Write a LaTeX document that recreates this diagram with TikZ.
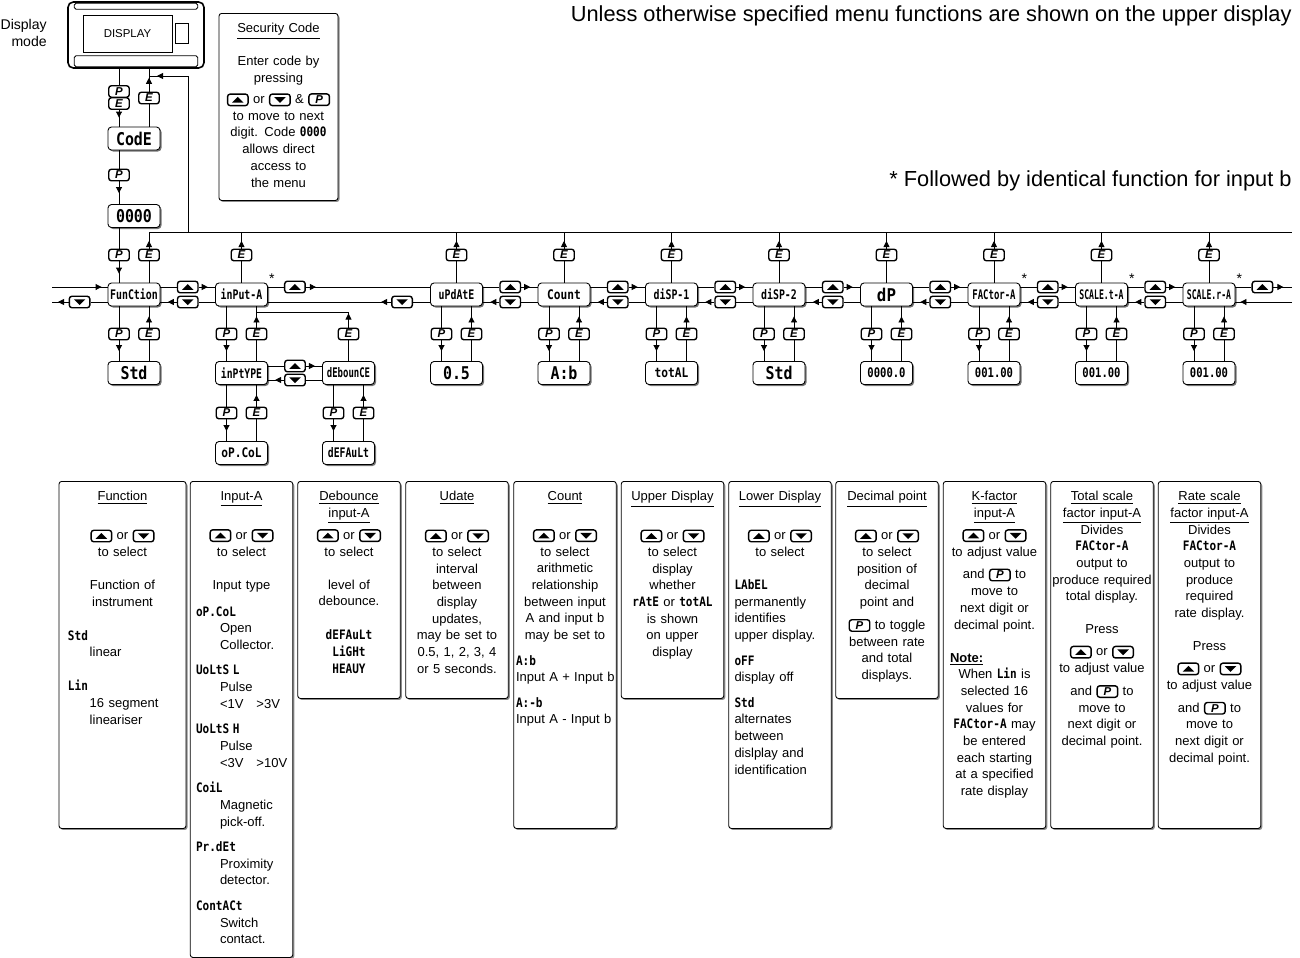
\documentclass[tikz,border=0pt]{standalone}
\usepackage{fontspec}
\setmainfont{Liberation Sans}
\newfontfamily\segfont{DejaVu Sans Mono}
\usepackage{graphicx}
\usetikzlibrary{positioning, arrows.meta, calc, shadows, decorations.markings}

\newcommand\sq[2][0.75]{\scalebox{#1}[1]{#2}}
\newcommand\sg[1]{{\segfont\bfseries\scalebox{0.85}[1]{#1}}}
\newcommand\kU{\tikz[baseline={([yshift=-0.75mm]k.center)}]\node[keyup] (k) {};}
\newcommand\kD{\tikz[baseline={([yshift=-0.75mm]k.center)}]\node[keydn] (k) {};}
\newcommand\kP{\tikz[baseline=(k.base)]\node[keyb] (k) {P};}
\newcommand\lft[2][0pt]{\leavevmode\hbox to\hsize{\hspace*{#1}#2\hss}}

\tikzset{
    seg/.style    = {draw, fill=white, rounded corners=2pt, line width=0.5pt,
                     minimum width=10.4mm, minimum height=4.6mm, inner sep=0pt,
                     drop shadow={shadow xshift=0.3mm, shadow yshift=-0.3mm, fill=black!55, opacity=1},
                     font=\segfont\bfseries\fontsize{7.5}{7.5}\selectfont},
    segbig/.style = {seg, font=\segfont\bfseries\fontsize{10}{10}\selectfont},
    keyb/.style   = {draw, fill=white, rounded corners=1.5pt, line width=0.8pt,
                     minimum width=4.1mm, minimum height=2.3mm, inner sep=0pt,
                     font=\fontsize{6.5}{6.5}\selectfont\bfseries\itshape},
    keyup/.style  = {keyb, path picture={\fill[black, sharp corners]
                     ([shift={(-1.15mm,-0.55mm)}]path picture bounding box.center)
                     -- ++(2.3mm,0mm) -- ++(-1.15mm,1.15mm) -- cycle;}},
    keydn/.style  = {keyb, path picture={\fill[black, sharp corners]
                     ([shift={(-1.15mm,0.55mm)}]path picture bounding box.center)
                     -- ++(2.3mm,0mm) -- ++(-1.15mm,-1.15mm) -- cycle;}},
    dev/.style    = {draw, rounded corners=3pt, line width=0.9pt, inner sep=0pt,
                     minimum width=27.2mm, minimum height=13.2mm},
    legbox/.style = {draw, fill=white, rounded corners=1.5pt, line width=0.5pt, anchor=north,
                     minimum width=20.5mm,
                     drop shadow={shadow xshift=0.3mm, shadow yshift=-0.3mm, fill=black!45, opacity=1}},
    legtxt/.style = {anchor=north, align=center, text width=20.2mm, inner xsep=0pt, inner ysep=2mm,
                     font=\fontsize{7.4}{9.5}\selectfont},
    flow/.style   = {postaction={decorate}, decoration={markings,
                     mark=at position #1 with {\arrow{Triangle[length=1.2mm, width=1.2mm]}}}},
    flow/.default = -1.8mm,
    note/.style   = {font=\fontsize{12.4}{14}\selectfont, anchor=east, inner sep=0pt}
}

\begin{document}
\begin{tikzpicture}[x=0.2mm, y=-0.2mm, line width=0.5pt]
    \useasboundingbox (0,0) rectangle (1300,958);

    % --- Display ---
    \node[font=\fontsize{8}{9.7}\selectfont, align=right, anchor=east] (dmode) at (53,33) {Display\\mode};
    \node[dev] (disp) at (136,35) {};
    \draw[rounded corners=1pt] ([shift={(7,2)}]disp.north west) rectangle ([shift={(-7,8)}]disp.north east);
    \draw[rounded corners=1pt] ([shift={(7,-13)}]disp.south west) rectangle ([shift={(-7,-2)}]disp.south east);
    \node[draw, minimum width=17.8mm, minimum height=7.4mm, font=\fontsize{6.5}{6.5}\selectfont] (dwin) at (127.5,33.5) {DISPLAY};
    \node[draw, minimum width=2.6mm, minimum height=4mm, inner sep=0pt] (dled) at (181.5,33) {};

    \node[legbox, minimum width=23.8mm, minimum height=37.4mm] (sec) at (278.5,13) {};
    \node[legtxt, text width=23mm] (secT) at (sec.north) {\underline{Security Code}\\[9.3pt]
        Enter code by\\ pressing\\[2.5pt] \kU{} or \kD{} \& \kP\\ to move to next\\
        digit. Code \sg{0000}\\ allows direct\\ access to\\ the menu};

    \node[note] (nUpper) at (1292,16) {Unless otherwise specified menu functions are shown on the upper display};
    \node[note] (nStar) at (1292,181) {* Followed by identical function for input b};

    % --- Code ---
    \node[segbig] (code) at (134,138.5) {\sq[0.85]{CodE}};
    \node[segbig] (zero) at (134,216) {\sq[0.85]{0000}};
    \node[keyb] (kP0) at (119,91.5) {P};
    \node[keyb] (kE0) at (119,103.5) {E};
    \node[keyb] (kE1) at (149,98) {E};
    \node[keyb] (kP1) at (119,175) {P};

    \draw (disp.south -| kP0) -- (kP0);
    \draw[flow] (kE0) -- (code.north -| kE0);
    \draw (code.north -| kE1) -- (kE1);
    \draw[flow] (kE1) -- (disp.south -| kE1);
    \draw (code.south -| kP1) -- (kP1);
    \draw[flow=-2.2mm] (kP1) -- (zero.north -| kP1);

    % --- Menu ---
    \coordinate (yB) at (0,232);
    \coordinate (yE) at (0,255);
    \coordinate (yU) at (0,287);
    \coordinate (yD) at (0,302);
    \coordinate (yJ) at (0,312);
    \coordinate (yP) at (0,334);
    \coordinate (yU2) at (0,366);
    \coordinate (yD2) at (0,380);
    \coordinate (yQ) at (0,413);
    \coordinate (xL) at (52,0);
    \coordinate (xR) at (1292,0);

    \node[seg]    (mFun) at (134,294.5)   {\sq{FunCtion}};
    \node[seg]    (mInp) at (241.5,294.5) {\sq{inPut-A}};
    \node[seg]    (mUpd) at (456.5,294.5) {\sq{uPdAtE}};
    \node[seg]    (mCnt) at (564,294.5)   {\sq[0.85]{Count}};
    \node[seg]    (mDs1) at (671.5,294.5) {\sq{diSP-1}};
    \node[seg]    (mDs2) at (779,294.5)   {\sq{diSP-2}};
    \node[segbig] (mDp)  at (886.5,294.5) {\sq[0.9]{dP}};
    \node[seg]    (mFac) at (994,294.5)   {\sq[0.68]{FACtor-A}};
    \node[seg]    (mSct) at (1101.5,294.5){\sq[0.62]{SCALE.t-A}};
    \node[seg]    (mScr) at (1209,294.5)  {\sq[0.62]{SCALE.r-A}};

    \node[segbig] (sFun) at (134,373)    {\sq[0.85]{Std}};
    \node[seg]    (sInp) at (241.5,373)  {\sq[0.74]{inPtYPE}};
    \node[seg]    (sDeb) at (348.5,373)  {\sq[0.68]{dEbounCE}};
    \node[segbig] (sUpd) at (456.5,373)  {\sq[0.85]{0.5}};
    \node[segbig] (sCnt) at (564,373)    {\sq[0.85]{A:b}};
    \node[seg]    (sDs1) at (671.5,373)  {\sq[0.85]{totAL}};
    \node[segbig] (sDs2) at (779,373)    {\sq[0.85]{Std}};
    \node[seg]    (sDp)  at (886.5,373)  {\sq[0.8]{0000.0}};
    \node[seg]    (sFac) at (994,373)    {\sq[0.8]{001.00}};
    \node[seg]    (sSct) at (1101.5,373) {\sq[0.8]{001.00}};
    \node[seg]    (sScr) at (1209,373)   {\sq[0.8]{001.00}};
    \node[seg]    (tTyp) at (241.5,453)  {\sq[0.85]{oP.CoL}};
    \node[seg]    (tDeb) at (348.5,453)  {\sq[0.74]{dEFAuLt}};

    \foreach \m in {mInp,mFac,mSct,mScr}
        \node[font=\fontsize{8}{8}\selectfont, inner sep=0pt] (a\m) at ([shift={(4,-4)}]\m.north east) {*};

    % Function from code
    \node[keyb] (pT) at (119,255) {P};
    \node[keyb] (eT) at (149,255) {E};
    \draw (zero.south -| pT) -- (pT);
    \draw[flow] (pT) -- (mFun.north -| pT);
    \draw (mFun.north -| eT) -- (eT);
    \draw[flow] (eT) -- (eT |- yB);

    % E back to display
    \draw (eT |- yB) -- (xR |- yB);
    \coordinate (ret) at (188,76);
    \draw[flow=-1.6mm] (ret |- yB) -- (ret) -- (kE1 |- ret);

    \foreach \m in {mInp,mUpd,mCnt,mDs1,mDs2,mDp,mFac,mSct,mScr}{
        \node[keyb] (e\m) at (\m |- yE) {E};
        \draw (\m) -- (e\m);
        \draw[flow] (e\m) -- (e\m |- yB);
    }

    % up / down between items
    \foreach \a/\b in {mFun/mInp, mUpd/mCnt, mCnt/mDs1, mDs1/mDs2, mDs2/mDp, mDp/mFac, mFac/mSct, mSct/mScr}{
        \path ($(\a.east)!0.5!(\b.west)$) coordinate (c\a);
        \node[keyup] (u\a) at (c\a |- yU) {};
        \node[keydn] (d\a) at (c\a |- yD) {};
        \draw (\a.east |- u\a) -- (u\a);
        \draw[flow=1.8mm] (u\a) -- (\b.west |- u\a);
        \draw (\b.west |- d\a) -- (d\a);
        \draw[flow=1.8mm] (d\a) -- (\a.east |- d\a);
    }
    \draw[flow=-1.2mm] (xL |- yU) -- (mFun.west |- yU);
    \node[keydn] (dL) at ($(mFun.west |- yD)+(-28,0)$) {};
    \draw (mFun.west |- dL) -- (dL);
    \draw[flow=-1.2mm] (dL) -- (xL |- yD);

    \node[keyup] (uInp) at ($(mInp.east |- yU)+(27,0)$) {};
    \draw (mInp.east |- uInp) -- (uInp);
    \draw[flow=2mm] (uInp) -- (mUpd.west |- uInp);
    \node[keydn] (dUpd) at ($(mUpd.west |- yD)+(-28,0)$) {};
    \draw (mUpd.west |- dUpd) -- (dUpd);
    \draw[flow=2mm] (dUpd) -- (mInp.east |- dUpd);

    \node[keyup] (uScr) at ($(mScr.east |- yU)+(27,0)$) {};
    \draw (mScr.east |- uScr) -- (uScr);
    \draw[flow=2mm] (uScr) -- (xR |- yU);
    \draw[flow=-1mm] (xR |- yD) -- (mScr.east |- yD);

    % P / E below
    \foreach \m/\s/\r in {mFun/sFun/yP, mInp/sInp/yP, mUpd/sUpd/yP, mCnt/sCnt/yP, mDs1/sDs1/yP,
                          mDs2/sDs2/yP, mDp/sDp/yP, mFac/sFac/yP, mSct/sSct/yP, mScr/sScr/yP,
                          sInp/tTyp/yQ, sDeb/tDeb/yQ}{
        \node[keyb] (p\m) at ($(\m |- \r)+(-15,0)$) {P};
        \node[keyb] (q\m) at ($(\m |- \r)+(15,0)$) {E};
        \draw (\m.south -| p\m) -- (p\m);
        \draw[flow=-2mm] (p\m) -- (\s.north -| p\m);
        \draw (\s.north -| q\m) -- (q\m);
        \draw[flow=-2mm] (q\m) -- (\m.south -| q\m);
    }

    % debounce
    \node[keyb] (eDeb) at (sDeb |- yP) {E};
    \draw (sDeb) -- (eDeb);
    \draw[flow=-0.3mm] (eDeb) -- (eDeb |- yJ);
    \draw (eDeb |- yJ) -- (qmInp |- yJ);
    \path ($(sInp.east)!0.5!(sDeb.west)$) coordinate (cSub);
    \node[keyup] (uSub) at (cSub |- yU2) {};
    \node[keydn] (dSub) at (cSub |- yD2) {};
    \draw (sInp.east |- uSub) -- (uSub);
    \draw[flow=1.8mm] (uSub) -- (sDeb.west |- uSub);
    \draw (sDeb.west |- dSub) -- (dSub);
    \draw[flow=1.8mm] (dSub) -- (sInp.east |- dSub);

    % --- Legend ---
    \node[legbox, minimum width=25.4mm, minimum height=69.4mm] (bFun) at (122.5,481) {};
    \node[legtxt, text width=25.1mm] (tFun) at (bFun.north) {\underline{Function}\\[12.7pt]
        \kU{} or \kD\\ to select\\[9.3pt] Function of\\ instrument\\[9.8pt]
        \lft[1.65mm]{\sg{Std}}\\ \lft[6mm]{linear}\\[9.8pt]
        \lft[1.65mm]{\sg{Lin}}\\ \lft[6mm]{16 segment}\\ \lft[6mm]{lineariser}};

    \node[legbox, minimum height=95.2mm] (bInp) at (241.5,481) {};
    \node[legtxt] (tInp) at (bInp.north) {\underline{Input-A}\\[12.7pt]
        \kU{} or \kD\\ to select\\[9.3pt] Input type\\[5.9pt]
        \lft[1mm]{\sg{oP.CoL}}\\ \lft[5.8mm]{Open}\\ \lft[5.8mm]{Collector.}\\[5pt]
        \lft[1mm]{\sg{UoLtS L}}\\ \lft[5.8mm]{Pulse}\\ \lft[5.8mm]{<1V\quad >3V}\\[5pt]
        \lft[1mm]{\sg{UoLtS H}}\\ \lft[5.8mm]{Pulse}\\ \lft[5.8mm]{<3V\quad >10V}\\[5pt]
        \lft[1mm]{\sg{CoiL}}\\ \lft[5.8mm]{Magnetic}\\ \lft[5.8mm]{pick-off.}\\[5pt]
        \lft[1mm]{\sg{Pr.dEt}}\\ \lft[5.8mm]{Proximity}\\ \lft[5.8mm]{detector.}\\[5pt]
        \lft[1mm]{\sg{ContACt}}\\ \lft[5.8mm]{Switch}\\ \lft[5.8mm]{contact.}};

    \node[legbox, minimum height=43.4mm] (bDeb) at (349,481) {};
    \node[legtxt] (tDeb) at (bDeb.north) {\underline{Debounce}\\ \underline{input-A}\\[3pt]
        \kU{} or \kD\\ to select\\[9.3pt] level of\\ debounce.\\[9.8pt]
        \sg{dEFAuLt}\\ \sg{LiGHt}\\ \sg{HEAUY}};

    \node[legbox, minimum height=43.4mm] (bUpd) at (457,481) {};
    \node[legtxt] (tUpd) at (bUpd.north) {\underline{Udate}\\[12.7pt]
        \kU{} or \kD\\ to select\\ interval\\ between\\ display\\ updates,\\
        may be set to\\ 0.5, 1, 2, 3, 4\\ or 5 seconds.};

    \node[legbox, minimum height=69.4mm] (bCnt) at (565,481) {};
    \node[legtxt] (tCnt) at (bCnt.north) {\underline{Count}\\[12.7pt]
        \kU{} or \kD\\ to select\\ arithmetic\\ relationship\\ between input\\
        A and input b\\ may be set to\\[5pt]
        \lft[0.3mm]{\sg{A:b}}\\ \lft[0.3mm]{Input A + Input b}\\[5pt]
        \lft[0.3mm]{\sg{A:-b}}\\ \lft[0.3mm]{Input A - Input b}};

    \node[legbox, minimum height=43.4mm] (bDs1) at (672.5,481) {};
    \node[legtxt] (tDs1) at (bDs1.north) {\underline{Upper Display}\\[12.7pt]
        \kU{} or \kD\\ to select\\ display\\ whether\\ \sg{rAtE} or \sg{totAL}\\
        is shown\\ on upper\\ display};

    \node[legbox, minimum height=69.4mm] (bDs2) at (780,481) {};
    \node[legtxt] (tDs2) at (bDs2.north) {\underline{Lower Display}\\[12.7pt]
        \kU{} or \kD\\ to select\\[9.3pt]
        \lft[1mm]{\sg{LAbEL}}\\ \lft[1mm]{permanently}\\ \lft[1mm]{identifies}\\ \lft[1mm]{upper display.}\\[5pt]
        \lft[1mm]{\sg{oFF}}\\ \lft[1mm]{display off}\\[5pt]
        \lft[1mm]{\sg{Std}}\\ \lft[1mm]{alternates}\\ \lft[1mm]{between}\\
        \lft[1mm]{dislplay and}\\ \lft[1mm]{identification}};

    \node[legbox, minimum height=43.4mm] (bDp) at (887,481) {};
    \node[legtxt] (tDp) at (bDp.north) {\underline{Decimal point}\\[12.7pt]
        \kU{} or \kD\\ to select\\ position of\\ decimal\\ point and\\[3.5pt]
        \kP{} to toggle\\ between rate\\ and total\\ displays.};

    \node[legbox, minimum height=69.4mm] (bFac) at (994.5,481) {};
    \node[legtxt] (tFac) at (bFac.north) {\underline{K-factor}\\ \underline{input-A}\\[3pt]
        \kU{} or \kD\\ to adjust value\\[3.5pt] and \kP{} to\\ move to\\ next digit or\\
        decimal point.\\[9.3pt]
        \lft[1.2mm]{\textbf{\underline{Note:}}}\\ When \sg{Lin} is\\ selected 16\\ values for\\
        \sg{FACtor-A} may\\ be entered\\ each starting\\ at a specified\\ rate display};

    \node[legbox, minimum height=69.4mm] (bSct) at (1102,481) {};
    \node[legtxt] (tSct) at (bSct.north) {\underline{Total scale}\\ \underline{factor input-A}\\
        Divides\\ \sg{FACtor-A}\\ output to\\ produce required\\ total display.\\[9.3pt]
        Press\\[3pt] \kU{} or \kD\\ to adjust value\\[3.5pt] and \kP{} to\\ move to\\
        next digit or\\ decimal point.};

    \node[legbox, minimum height=69.4mm] (bScr) at (1209.5,481) {};
    \node[legtxt] (tScr) at (bScr.north) {\underline{Rate scale}\\ \underline{factor input-A}\\
        Divides\\ \sg{FACtor-A}\\ output to\\ produce\\ required\\ rate display.\\[9.3pt]
        Press\\[3pt] \kU{} or \kD\\ to adjust value\\[3.5pt] and \kP{} to\\ move to\\
        next digit or\\ decimal point.};
\end{tikzpicture}
\end{document}
